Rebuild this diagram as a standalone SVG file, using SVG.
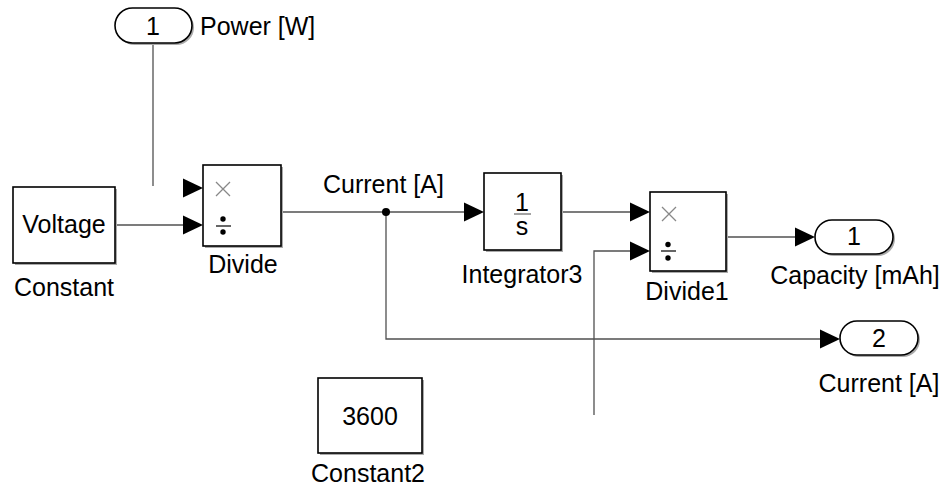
<svg xmlns="http://www.w3.org/2000/svg" width="943" height="488" viewBox="0 0 943 488">
<style>
text{font-family:"Liberation Sans",Arial,sans-serif;font-size:25px;fill:#000}
.blk{fill:#fff;stroke:#000;stroke-width:1.6}
.sh{fill:#aaa}
.ln{fill:none;stroke:#505050;stroke-width:1.3}
.op{fill:none;stroke:#888;stroke-width:1.3}
.ar{fill:#000}
.m{text-anchor:middle}
</style>
<defs>
<path id="arr" d="M0,0 L-20,-9.5 L-20,9.5 Z"/>
</defs>
<rect width="943" height="488" fill="#fff"/>
<g id="connectors">
<path class="ln" d="M153,43 V186"/>
<path class="ln" d="M115,225 H185"/>
<path class="ln" d="M281,212 H466"/>
<path class="ln" d="M386,212 V339 H823"/>
<path class="ln" d="M561,212 H632"/>
<path class="ln" d="M594,415 V251 H632"/>
<path class="ln" d="M726,237 H797"/>
<circle cx="386" cy="212" r="4" fill="#000"/>
<use href="#arr" x="203" y="188" class="ar"/>
<use href="#arr" x="203" y="225" class="ar"/>
<use href="#arr" x="484" y="212" class="ar"/>
<use href="#arr" x="650" y="212" class="ar"/>
<use href="#arr" x="650" y="251" class="ar"/>
<use href="#arr" x="815" y="237" class="ar"/>
<use href="#arr" x="840" y="339" class="ar"/>
</g>
<g id="power">
<rect class="sh" x="117" y="10" width="77" height="35" rx="17.5"/>
<rect class="blk" x="115" y="8" width="77" height="35" rx="17.5"/>
<text x="153" y="35" class="m">1</text>
<text x="200" y="35">Power [W]</text>
</g>
<g id="constant">
<rect class="sh" x="15" y="189" width="102" height="76"/>
<rect class="blk" x="13" y="187" width="102" height="76"/>
<text x="64" y="233" class="m">Voltage</text>
<text x="64" y="296" class="m">Constant</text>
</g>
<g id="divide">
<rect class="sh" x="205" y="167" width="78" height="81"/>
<rect class="blk" x="203" y="165" width="78" height="81"/>
<path class="op" d="M216,182 L230,196 M230,182 L216,196"/>
<path d="M216,226 H231" stroke="#333" stroke-width="1.5"/>
<circle cx="223" cy="219" r="2.7" fill="#000"/>
<circle cx="223" cy="232" r="2.7" fill="#000"/>
<text x="243" y="273" class="m">Divide</text>
</g>
<g id="current-label">
<text x="323" y="193">Current [A]</text>
</g>
<g id="integrator3">
<rect class="sh" x="486" y="175" width="77" height="77"/>
<rect class="blk" x="484" y="173" width="77" height="77"/>
<text x="522" y="211" class="m">1</text>
<path d="M514,214 H531" stroke="#666" stroke-width="1.2"/>
<text x="522" y="235" class="m">s</text>
<text x="522" y="283" class="m">Integrator3</text>
</g>
<g id="divide1">
<rect class="sh" x="652" y="194" width="76" height="79"/>
<rect class="blk" x="650" y="192" width="76" height="79"/>
<path class="op" d="M662,207 L676,221 M676,207 L662,221"/>
<path d="M661,251 H676" stroke="#333" stroke-width="1.5"/>
<circle cx="668" cy="244.5" r="2.7" fill="#000"/>
<circle cx="668" cy="258" r="2.7" fill="#000"/>
<text x="687" y="300" class="m">Divide1</text>
</g>
<g id="out1">
<rect class="sh" x="817" y="222" width="78" height="34" rx="17"/>
<rect class="blk" x="815" y="220" width="78" height="34" rx="17"/>
<text x="854" y="245" class="m">1</text>
<text x="855" y="284" class="m">Capacity [mAh]</text>
</g>
<g id="out2">
<rect class="sh" x="842" y="323" width="78" height="34" rx="17"/>
<rect class="blk" x="840" y="321" width="78" height="34" rx="17"/>
<text x="879" y="347" class="m">2</text>
<text x="879" y="392" class="m">Current [A]</text>
</g>
<g id="constant2">
<rect class="sh" x="320" y="380" width="104" height="75"/>
<rect class="blk" x="318" y="378" width="104" height="75"/>
<text x="370" y="425" class="m">3600</text>
<text x="368" y="482" class="m">Constant2</text>
</g>
</svg>
